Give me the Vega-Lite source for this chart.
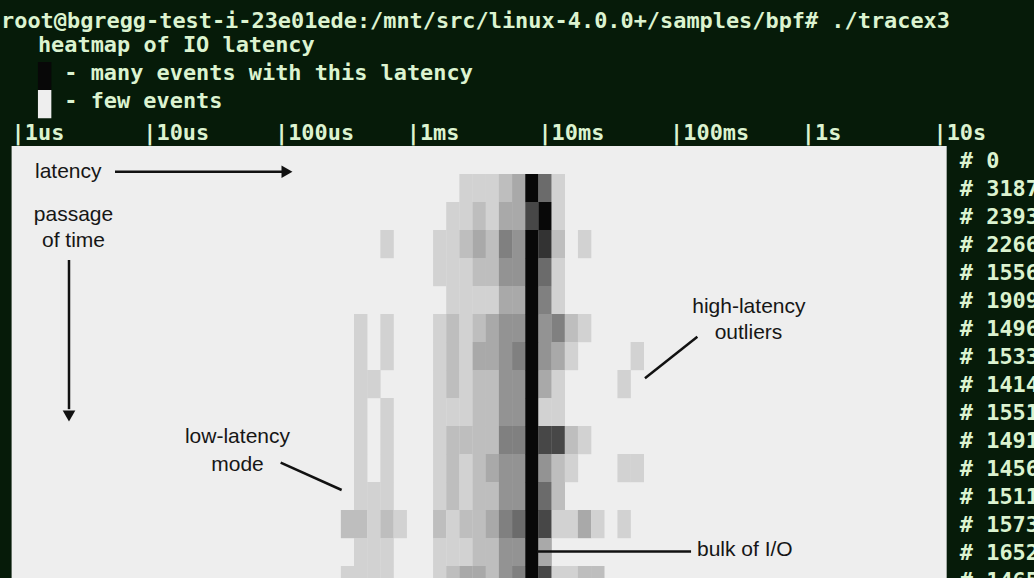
{
  "$schema": "https://vega.github.io/schema/vega-lite/v6.json",
  "width": 1034,
  "height": 578,
  "autosize": {"type": "fit", "contains": "padding"},
  "padding": 0,
  "background": "#061b09",
  "config": {"view": {"stroke": null}},
  "encoding": {
    "x": {"field": "c", "type": "quantitative", "scale": {"domain": [-0.881, 77.63], "nice": false, "zero": false}, "axis": null},
    "y": {"field": "t", "type": "quantitative", "scale": {"domain": [-0.2143, 20.4286], "nice": false, "zero": false, "reverse": true}, "axis": null}
  },
  "layer": [
    {
      "data": {"values": [{"c": 0, "c2": 71, "t": 5, "t2": 21}]},
      "mark": {"type": "rect", "color": "#eeeeee", "clip": true},
      "encoding": {"x2": {"field": "c2"}, "y2": {"field": "t2"}}
    },
    {
      "data": {"values": [
        {"t":2,"c":2,"v":9},{"t":3,"c":2,"v":0},
        {"t":6,"c":34,"v":1},{"t":6,"c":35,"v":1},{"t":6,"c":36,"v":1},{"t":6,"c":37,"v":2},{"t":6,"c":38,"v":3},{"t":6,"c":39,"v":9},{"t":6,"c":40,"v":6},{"t":6,"c":41,"v":1},
        {"t":7,"c":33,"v":1},{"t":7,"c":34,"v":1},{"t":7,"c":35,"v":2},{"t":7,"c":36,"v":1},{"t":7,"c":37,"v":3},{"t":7,"c":38,"v":3},{"t":7,"c":39,"v":7},{"t":7,"c":40,"v":9},{"t":7,"c":41,"v":1},
        {"t":8,"c":28,"v":1},{"t":8,"c":32,"v":1},{"t":8,"c":33,"v":1},{"t":8,"c":34,"v":2},{"t":8,"c":35,"v":3},{"t":8,"c":36,"v":2},{"t":8,"c":37,"v":5},{"t":8,"c":38,"v":4},{"t":8,"c":39,"v":9},{"t":8,"c":40,"v":8},{"t":8,"c":41,"v":2},{"t":8,"c":43,"v":1},
        {"t":9,"c":32,"v":1},{"t":9,"c":33,"v":1},{"t":9,"c":34,"v":1},{"t":9,"c":35,"v":2},{"t":9,"c":36,"v":2},{"t":9,"c":37,"v":4},{"t":9,"c":38,"v":4},{"t":9,"c":39,"v":9},{"t":9,"c":40,"v":6},{"t":9,"c":41,"v":1},
        {"t":10,"c":33,"v":1},{"t":10,"c":34,"v":1},{"t":10,"c":35,"v":1},{"t":10,"c":36,"v":1},{"t":10,"c":37,"v":3},{"t":10,"c":38,"v":3},{"t":10,"c":39,"v":9},{"t":10,"c":40,"v":5},{"t":10,"c":41,"v":1},
        {"t":11,"c":26,"v":1},{"t":11,"c":28,"v":1},{"t":11,"c":32,"v":1},{"t":11,"c":33,"v":2},{"t":11,"c":34,"v":1},{"t":11,"c":35,"v":2},{"t":11,"c":36,"v":3},{"t":11,"c":37,"v":4},{"t":11,"c":38,"v":4},{"t":11,"c":39,"v":9},{"t":11,"c":40,"v":4},{"t":11,"c":41,"v":5},{"t":11,"c":42,"v":2},{"t":11,"c":43,"v":1},
        {"t":12,"c":26,"v":1},{"t":12,"c":28,"v":1},{"t":12,"c":32,"v":1},{"t":12,"c":33,"v":2},{"t":12,"c":34,"v":1},{"t":12,"c":35,"v":3},{"t":12,"c":36,"v":3},{"t":12,"c":37,"v":4},{"t":12,"c":38,"v":5},{"t":12,"c":39,"v":9},{"t":12,"c":40,"v":4},{"t":12,"c":41,"v":3},{"t":12,"c":42,"v":1},{"t":12,"c":47,"v":1},
        {"t":13,"c":26,"v":1},{"t":13,"c":27,"v":1},{"t":13,"c":32,"v":1},{"t":13,"c":33,"v":2},{"t":13,"c":34,"v":1},{"t":13,"c":35,"v":2},{"t":13,"c":36,"v":2},{"t":13,"c":37,"v":4},{"t":13,"c":38,"v":4},{"t":13,"c":39,"v":9},{"t":13,"c":40,"v":3},{"t":13,"c":41,"v":1},{"t":13,"c":46,"v":1},
        {"t":14,"c":26,"v":1},{"t":14,"c":28,"v":1},{"t":14,"c":32,"v":1},{"t":14,"c":33,"v":1},{"t":14,"c":34,"v":1},{"t":14,"c":35,"v":2},{"t":14,"c":36,"v":2},{"t":14,"c":37,"v":4},{"t":14,"c":38,"v":4},{"t":14,"c":39,"v":9},{"t":14,"c":40,"v":1},{"t":14,"c":41,"v":1},
        {"t":15,"c":26,"v":1},{"t":15,"c":28,"v":1},{"t":15,"c":32,"v":1},{"t":15,"c":33,"v":2},{"t":15,"c":34,"v":2},{"t":15,"c":35,"v":2},{"t":15,"c":36,"v":2},{"t":15,"c":37,"v":5},{"t":15,"c":38,"v":5},{"t":15,"c":39,"v":9},{"t":15,"c":40,"v":7},{"t":15,"c":41,"v":7},{"t":15,"c":42,"v":2},{"t":15,"c":43,"v":1},
        {"t":16,"c":26,"v":1},{"t":16,"c":28,"v":1},{"t":16,"c":32,"v":1},{"t":16,"c":33,"v":2},{"t":16,"c":34,"v":1},{"t":16,"c":35,"v":2},{"t":16,"c":36,"v":3},{"t":16,"c":37,"v":4},{"t":16,"c":38,"v":4},{"t":16,"c":39,"v":9},{"t":16,"c":40,"v":4},{"t":16,"c":41,"v":2},{"t":16,"c":42,"v":1},{"t":16,"c":46,"v":1},{"t":16,"c":47,"v":1},
        {"t":17,"c":26,"v":1},{"t":17,"c":27,"v":1},{"t":17,"c":28,"v":1},{"t":17,"c":32,"v":1},{"t":17,"c":33,"v":2},{"t":17,"c":34,"v":1},{"t":17,"c":35,"v":2},{"t":17,"c":36,"v":2},{"t":17,"c":37,"v":4},{"t":17,"c":38,"v":4},{"t":17,"c":39,"v":9},{"t":17,"c":40,"v":6},{"t":17,"c":41,"v":2},
        {"t":18,"c":25,"v":2},{"t":18,"c":26,"v":2},{"t":18,"c":27,"v":1},{"t":18,"c":28,"v":2},{"t":18,"c":29,"v":1},{"t":18,"c":32,"v":2},{"t":18,"c":33,"v":1},{"t":18,"c":34,"v":2},{"t":18,"c":35,"v":2},{"t":18,"c":36,"v":3},{"t":18,"c":37,"v":5},{"t":18,"c":38,"v":6},{"t":18,"c":39,"v":9},{"t":18,"c":40,"v":7},{"t":18,"c":41,"v":1},{"t":18,"c":42,"v":1},{"t":18,"c":43,"v":3},{"t":18,"c":44,"v":1},{"t":18,"c":46,"v":1},
        {"t":19,"c":26,"v":1},{"t":19,"c":27,"v":1},{"t":19,"c":28,"v":1},{"t":19,"c":32,"v":1},{"t":19,"c":33,"v":1},{"t":19,"c":34,"v":1},{"t":19,"c":35,"v":2},{"t":19,"c":36,"v":2},{"t":19,"c":37,"v":4},{"t":19,"c":38,"v":4},{"t":19,"c":39,"v":9},{"t":19,"c":40,"v":3},
        {"t":20,"c":25,"v":1},{"t":20,"c":26,"v":1},{"t":20,"c":27,"v":1},{"t":20,"c":28,"v":1},{"t":20,"c":32,"v":1},{"t":20,"c":33,"v":2},{"t":20,"c":34,"v":3},{"t":20,"c":35,"v":3},{"t":20,"c":36,"v":2},{"t":20,"c":37,"v":4},{"t":20,"c":38,"v":5},{"t":20,"c":39,"v":9},{"t":20,"c":40,"v":7},{"t":20,"c":41,"v":1},{"t":20,"c":42,"v":1},{"t":20,"c":43,"v":2},{"t":20,"c":44,"v":2}
      ]},
      "mark": {"type": "rect", "clip": true, "x2Offset": 13.4, "y2Offset": 28.2, "opacity": 1},
      "encoding": {
        "x2": {"field": "c"},
        "y2": {"field": "t"},
        "color": {"field": "v", "type": "ordinal", "legend": null,
          "scale": {"domain": [0,1,2,3,4,5,6,7,8,9], "range": ["#eeeeee","#d2d2d2","#bebebe","#a9a9a9","#939393","#808080","#6b6b6b","#474747","#333333","#080808"]}}
      }
    },
    {
      "data": {"values": [
        {"c": -0.8, "t": 0, "s": "root@bgregg-test-i-23e01ede:/mnt/src/linux-4.0.0+/samples/bpf# ./tracex3"},
        {"c": 0, "t": 4, "s": "|1us"},
        {"c": 10, "t": 4, "s": "|10us"},
        {"c": 20, "t": 4, "s": "|100us"},
        {"c": 30, "t": 4, "s": "|1ms"},
        {"c": 40, "t": 4, "s": "|10ms"},
        {"c": 50, "t": 4, "s": "|100ms"},
        {"c": 60, "t": 4, "s": "|1s"},
        {"c": 70, "t": 4, "s": "|10s"},
        {"c": 72, "t": 5, "s": "# 0"},
        {"c": 72, "t": 6, "s": "# 3187"},
        {"c": 72, "t": 7, "s": "# 2393"},
        {"c": 72, "t": 8, "s": "# 2266"},
        {"c": 72, "t": 9, "s": "# 1556"},
        {"c": 72, "t": 10, "s": "# 1909"},
        {"c": 72, "t": 11, "s": "# 1496"},
        {"c": 72, "t": 12, "s": "# 1533"},
        {"c": 72, "t": 13, "s": "# 1414"},
        {"c": 72, "t": 14, "s": "# 1551"},
        {"c": 72, "t": 15, "s": "# 1491"},
        {"c": 72, "t": 16, "s": "# 1456"},
        {"c": 72, "t": 17, "s": "# 1511"},
        {"c": 72, "t": 18, "s": "# 1573"},
        {"c": 72, "t": 19, "s": "# 1652"},
        {"c": 72, "t": 20, "s": "# 1465"}
      ]},
      "mark": {"type": "text", "clip": true, "align": "left", "baseline": "alphabetic", "dy": 22, "font": "DejaVu Sans Mono", "fontSize": 21.9, "fontWeight": "bold", "color": "#dcf3d0"},
      "encoding": {"text": {"field": "s"}}
    },
    {
      "data": {"values": [
        {"c": 2, "t": 1, "s": "heatmap of IO latency"},
        {"c": 4, "t": 2, "s": "- many events with this latency"},
        {"c": 4, "t": 3, "s": "- few events"}
      ]},
      "mark": {"type": "text", "clip": true, "align": "left", "baseline": "alphabetic", "dy": 18, "font": "DejaVu Sans Mono", "fontSize": 21.9, "fontWeight": "bold", "color": "#dcf3d0"},
      "encoding": {"text": {"field": "s"}}
    },
    {
      "data": {"values": [
        {"c": 1.777, "t": 6.143, "s": "latency"},
        {"c": 52.04, "t": 19.64, "s": "bulk of I/O"}
      ]},
      "mark": {"type": "text", "clip": true, "align": "left", "baseline": "alphabetic", "font": "Liberation Sans", "fontSize": 21, "color": "#161616"},
      "encoding": {"text": {"field": "s"}}
    },
    {
      "data": {"values": [
        {"c": 4.70, "t": 7.664, "s": "passage"},
        {"c": 4.70, "t": 8.625, "s": "of time"},
        {"c": 17.15, "t": 15.607, "s": "low-latency"},
        {"c": 17.15, "t": 16.59, "s": "mode"},
        {"c": 55.98, "t": 10.96, "s": "high-latency"},
        {"c": 55.95, "t": 11.91, "s": "outliers"}
      ]},
      "mark": {"type": "text", "clip": true, "align": "center", "baseline": "alphabetic", "font": "Liberation Sans", "fontSize": 21, "color": "#161616"},
      "encoding": {"text": {"field": "s"}}
    },
    {
      "data": {"values": [
        {"c": 7.851, "t": 5.918, "c2": 20.6, "t2": 5.918},
        {"c": 4.358, "t": 9.071, "c2": 4.358, "t2": 14.4},
        {"c": 20.43, "t": 16.311, "c2": 25.06, "t2": 17.286},
        {"c": 52.07, "t": 11.811, "c2": 48.09, "t2": 13.296},
        {"c": 39.89, "t": 19.48, "c2": 51.59, "t2": 19.48}
      ]},
      "mark": {"type": "rule", "clip": true, "strokeWidth": 2.5, "color": "#111111"},
      "encoding": {"x2": {"field": "c2"}, "y2": {"field": "t2"}}
    },
    {
      "data": {"values": [
        {"c": 20.91, "t": 5.918, "sh": "triangle-right"},
        {"c": 4.358, "t": 14.643, "sh": "triangle-down"}
      ]},
      "mark": {"type": "point", "clip": true, "filled": true, "opacity": 1, "size": 160, "color": "#111111"},
      "encoding": {"shape": {"field": "sh", "type": "nominal", "legend": null, "scale": {"domain": ["triangle-right", "triangle-down"], "range": ["triangle-right", "triangle-down"]}}}
    }
  ]
}
